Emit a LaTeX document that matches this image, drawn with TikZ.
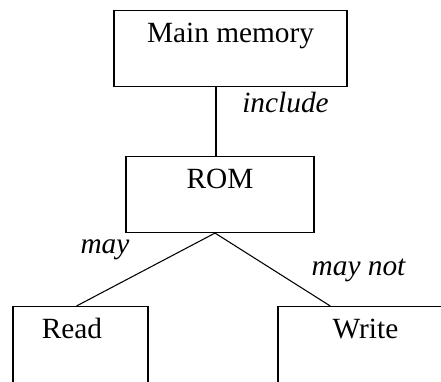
\documentclass[tikz,border=0pt]{standalone}
\usepackage{fontspec}
\setmainfont{Liberation Serif}
\usepackage{tikz}
\usetikzlibrary{calc}

\begin{document}
\begin{tikzpicture}[x=0.75pt,y=-0.75pt,
  memblock/.style={draw,thin,line width=0.8pt,anchor=north,inner xsep=0pt,inner ysep=0pt,
    font=\fontsize{22}{26}\selectfont,text height=24pt,text depth=33pt},
  rel/.style={anchor=base,inner sep=0pt,font=\fontsize{22}{26}\selectfont\itshape}]
\useasboundingbox (0,0) rectangle (441,381);
% boxes
\node[memblock,minimum width=174.75pt] (mainmem) at (230.5,10) {Main memory};
\node[memblock,minimum width=141pt] (rom) at (220,156) {ROM};
\node[memblock,minimum width=101.25pt,text depth=40pt] (read) at (80.5,306) {Read\hspace*{12.75pt}};
\node[memblock,minimum width=131.25pt,text depth=40pt] (write) at (365.5,306) {Write};

% links
\coordinate (romtop) at ($(rom.north)+(-4,0)$);
\coordinate (romfoot) at ($(rom.south)+(-5,0)$);
\draw[line width=0.8pt] (romtop) -- (romtop |- mainmem.south);
\draw[line width=0.8pt] (romfoot) -- ($(read.north)+(-4,0)$);
\draw[line width=0.8pt] (romfoot) -- ($(write.north west)!0.3!(write.north east)$);

\node[rel] (incl) at (285.5,113) {include};
\node[rel] (may) at (105,253) {may};
\node[rel] (maynot) at (358.5,275) {may not};
\end{tikzpicture}
\end{document}
